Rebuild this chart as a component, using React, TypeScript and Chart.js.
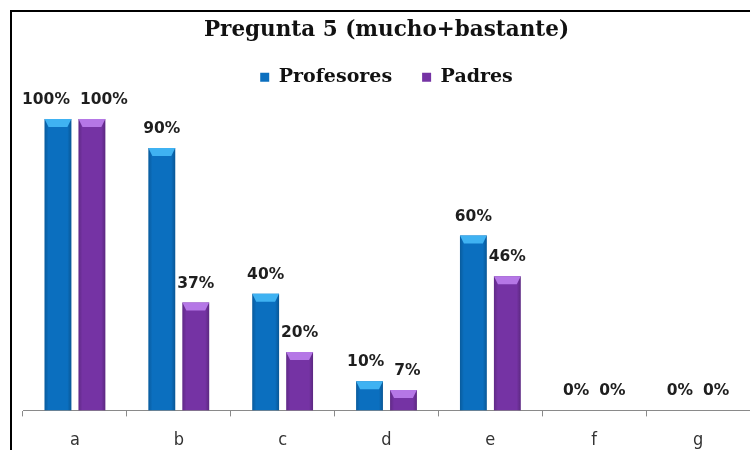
import React, { useEffect, useRef } from "react";
import { Chart, registerables } from "chart.js";

Chart.register(...registerables);

const categories = ["a", "b", "c", "d", "e", "f", "g"];
const profesores = [100, 90, 40, 10, 60, 0, 0];
const padres = [100, 37, 20, 7, 46, 0, 0];
const seriesNames = ["Profesores", "Padres"];
const titleText = "Pregunta 5 (mucho+bastante)";
const yMax = 107.6;

const BLUE = "#0b6fbf";
const BLUE_LIGHT = "#3fb2f2";
const PURPLE = "#7533a4";
const PURPLE_LIGHT = "#b577e6";

const LABEL_FONT = "bold 15.5px 'DejaVu Sans'";
const LABEL_GAP = 10;

const barDecor = {
  id: "barDecor",
  afterDatasetsDraw(chart: any) {
    const ctx = chart.ctx;
    const labels: any[][] = [];
    chart.data.datasets.forEach((ds: any, di: number) => {
      const meta = chart.getDatasetMeta(di);
      const light = di === 0 ? BLUE_LIGHT : PURPLE_LIGHT;
      meta.data.forEach((bar: any, i: number) => {
        const { x, y, base, width } = bar.getProps(["x", "y", "base", "width"], true);
        const h = base - y;
        const left = x - width / 2;
        const right = x + width / 2;
        ctx.save();
        if (h > 1) {
          const g = ctx.createLinearGradient(left, 0, right, 0);
          g.addColorStop(0, "rgba(0,0,0,0.18)");
          g.addColorStop(0.15, "rgba(0,0,0,0)");
          g.addColorStop(0.85, "rgba(0,0,0,0)");
          g.addColorStop(1, "rgba(0,0,0,0.22)");
          ctx.fillStyle = g;
          ctx.fillRect(left, y, width, h);
          const d = Math.min(8, h);
          ctx.beginPath();
          ctx.moveTo(left, y);
          ctx.lineTo(right, y);
          ctx.lineTo(right - 4, y + d);
          ctx.lineTo(left + 4, y + d);
          ctx.closePath();
          ctx.fillStyle = light;
          ctx.fill();
        }
        ctx.restore();
        if (!labels[i]) labels[i] = [];
        labels[i][di] = { x, y, text: ds.data[i] + "%" };
      });
    });
    // draw labels, pushing apart overlapping pairs in the same category
    ctx.save();
    ctx.font = LABEL_FONT;
    ctx.fillStyle = "#1e1e1e";
    ctx.textAlign = "center";
    ctx.textBaseline = "middle";
    labels.forEach((pair) => {
      if (!pair) return;
      const [a, b] = pair;
      let ax = a.x;
      let bx = b.x;
      const wa = ctx.measureText(a.text).width;
      const wb = ctx.measureText(b.text).width;
      const gap = bx - wb / 2 - (ax + wa / 2);
      if (gap < LABEL_GAP && Math.abs(a.y - b.y) < 14) {
        const shift = (LABEL_GAP - gap) / 2;
        ax -= shift;
        bx += shift;
      }
      ctx.fillText(a.text, ax, a.y - 19);
      ctx.fillText(b.text, bx, b.y - 19);
    });
    ctx.restore();
  },
};

export default function App() {
  const ref = useRef<HTMLCanvasElement | null>(null);
  useEffect(() => {
    if (!ref.current) return;
    const chart = new Chart(ref.current, {
      type: "bar",
      data: {
        labels: categories,
        datasets: [
          { label: seriesNames[0], data: profesores, backgroundColor: BLUE },
          { label: seriesNames[1], data: padres, backgroundColor: PURPLE },
        ],
      },
      options: {
        animation: false,
        responsive: true,
        maintainAspectRatio: false,
        layout: { padding: { left: 11, right: 0, top: 0, bottom: 0 } },
        datasets: {
          bar: { categoryPercentage: 0.654, barPercentage: 0.79 },
        },
        scales: {
          x: {
            grid: {
              drawOnChartArea: false,
              drawTicks: true,
              tickLength: 6,
              color: "#8a8a8a",
            },
            border: { color: "#8a8a8a", width: 1 },
            ticks: {
              padding: 13,
              color: "#333333",
              font: { family: "'DejaVu Sans Condensed', 'Liberation Sans Narrow', 'Liberation Sans'", size: 18, lineHeight: 1.2 },
            },
          },
          y: { display: false, min: 0, max: yMax },
        },
        plugins: {
          tooltip: { enabled: false },
          title: {
            display: true,
            text: titleText,
            color: "#111",
            font: { family: "'DejaVu Serif'", size: 21.5, weight: "bold", lineHeight: 1.2 },
            padding: { top: 6, bottom: -6 },
          },
          legend: {
            display: true,
            labels: {
              boxWidth: 9,
              boxHeight: 9,
              padding: 30,
              color: "#111",
              font: { family: "'DejaVu Serif'", size: 19, weight: "bold" },
            },
          },
        },
      },
      plugins: [barDecor],
    });
    return () => chart.destroy();
  }, []);

  return (
    <div
      style={{
        position: "absolute",
        left: 10,
        top: 10,
        width: 740,
        height: 454,
        borderTop: "2px solid #000",
        borderLeft: "2px solid #000",
        boxSizing: "border-box",
        background: "#fff",
      }}
    >
      <div style={{ position: "relative", width: 738, height: 452 }}>
        <canvas ref={ref} />
      </div>
    </div>
  );
}
